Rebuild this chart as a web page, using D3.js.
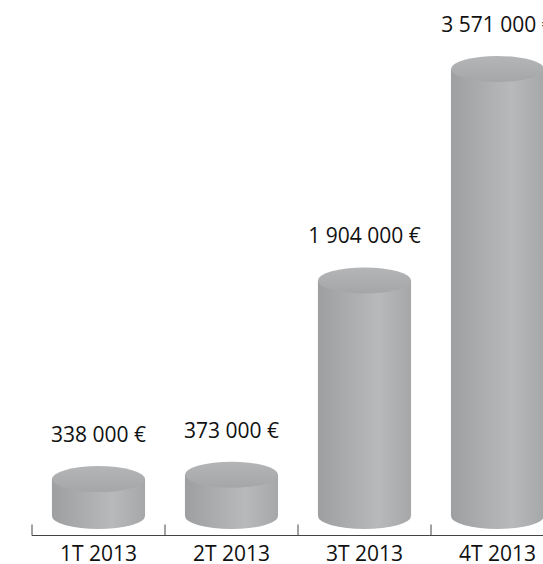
<!DOCTYPE html>
<html lang="fr">
<head>
  <meta charset="UTF-8">
  <title>Cylindres 2013</title>
  <script src="https://cdnjs.cloudflare.com/ajax/libs/d3/7.8.5/d3.min.js"></script>
  <style>
      body {
          margin: 0;
          background: #fff;
          font-family: "Open Sans", "Noto Sans", sans-serif;
      }
  </style>
</head>
<body>
<div id="chart"></div>

<script>
  // Data
  const quarters = ["1T 2013", "2T 2013", "3T 2013", "4T 2013"];
  const amounts = [338000, 373000, 1904000, 3571000];

  // Layout
  const width = 543;
  const height = 564;
  const axisY = 535.5;
  const base = 516;      // centre of the bottom ellipse
  const ry = 13;         // ellipse vertical radius
  const fmt = v => d3.format(",d")(v).replace(/,/g, " ") + " €";

  const x = d3.scaleBand()
      .domain(quarters)
      .range([32, 564])
      .paddingInner(0.3)
      .paddingOuter(0.15);

  const y = d3.scaleLinear()
      .domain([0, d3.max(amounts)])
      .range([522, 69]);

  const svg = d3.select("#chart")
      .append("svg")
      .attr("width", width)
      .attr("height", height)
      .attr("viewBox", [0, 0, width, height]);

  const defs = svg.append("defs");

  const sideGrad = defs.append("linearGradient")
      .attr("id", "side")
      .attr("x1", 0).attr("x2", 1).attr("y1", 0).attr("y2", 0);
  sideGrad.append("stop").attr("offset", "0%").attr("stop-color", "#9e9fa1");
  sideGrad.append("stop").attr("offset", "25%").attr("stop-color", "#a8a9ab");
  sideGrad.append("stop").attr("offset", "65%").attr("stop-color", "#b8b9bb");
  sideGrad.append("stop").attr("offset", "100%").attr("stop-color", "#a6a7a9");

  const topGrad = defs.append("linearGradient")
      .attr("id", "topface")
      .attr("x1", 0).attr("x2", 0).attr("y1", 0).attr("y2", 1);
  topGrad.append("stop").attr("offset", "0%").attr("stop-color", "#b4b5b7");
  topGrad.append("stop").attr("offset", "100%").attr("stop-color", "#a5a6a8");

  const data = quarters.map((q, i) => ({ q, v: amounts[i] }));

  const cyl = svg.append("g")
      .selectAll("g")
      .data(data)
      .join("g");

  // body: rectangle side + bottom half-ellipse
  cyl.append("path")
      .attr("fill", "url(#side)")
      .attr("d", d => {
        const x0 = x(d.q), w = x.bandwidth(), rx = w / 2, t = y(d.v);
        return `M${x0},${t} L${x0},${base} A${rx},${ry} 0 0 0 ${x0 + w},${base} L${x0 + w},${t} Z`;
      });

  cyl.append("ellipse")
      .attr("fill", "url(#topface)")
      .attr("cx", d => x(d.q) + x.bandwidth() / 2)
      .attr("cy", d => y(d.v))
      .attr("rx", x.bandwidth() / 2)
      .attr("ry", ry);

  // value labels
  svg.append("g")
      .attr("font-size", 21)
      .attr("fill", "#111")
      .attr("text-anchor", "middle")
      .selectAll("text")
      .data(data)
      .join("text")
      .attr("x", d => x(d.q) + x.bandwidth() / 2)
      .attr("y", d => y(d.v) - ry - 24)
      .text(d => fmt(d.v));

  // axis
  const axis = svg.append("g").attr("stroke", "#444").attr("stroke-width", 1);
  axis.append("line")
      .attr("x1", x.range()[0]).attr("x2", x.range()[1])
      .attr("y1", axisY).attr("y2", axisY);
  const step = x.step();
  const edges = quarters.map((q, i) => x.range()[0] + i * step);
  axis.selectAll(".tick")
      .data(edges)
      .join("line")
      .attr("x1", d => d).attr("x2", d => d)
      .attr("y1", axisY).attr("y2", axisY - 11);

  svg.append("g")
      .attr("font-size", 21)
      .attr("fill", "#111")
      .attr("text-anchor", "middle")
      .selectAll("text")
      .data(quarters)
      .join("text")
      .attr("x", d => x(d) + x.bandwidth() / 2)
      .attr("y", 561)
      .text(d => d);
</script>
</body>
</html>
